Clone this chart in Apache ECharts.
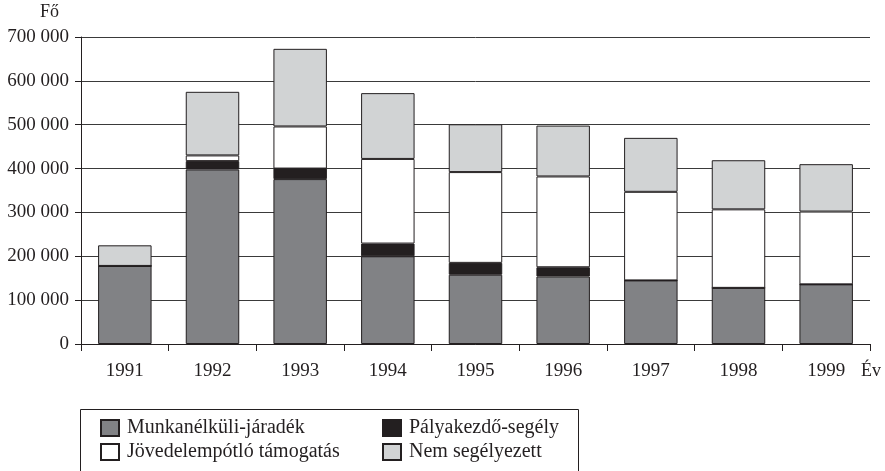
<!DOCTYPE html>
<html>
<head>
<meta charset="utf-8">
<script src="https://cdn.jsdelivr.net/npm/echarts@6/dist/echarts.min.js"></script>
<style>html,body{margin:0;padding:0;background:#fff;}#c{width:885px;height:471px;}</style>
</head>
<body>
<div id="c"></div>
<script>
const years = ['1991','1992','1993','1994','1995','1996','1997','1998','1999'];
const munkanelkuli = [178000, 398000, 376000, 200000, 158000, 154000, 145000, 128000, 136000];
const palyakezdo   = [0, 19000, 24000, 29000, 27000, 21000, 0, 0, 0];
const jovedelem    = [0, 13000, 96000, 193000, 207000, 207000, 202000, 179000, 166000];
const nemSegelyezett = [47000, 145000, 177000, 150000, 109000, 116000, 123000, 112000, 108000];
const yTicks = [0, 100000, 200000, 300000, 400000, 500000, 600000, 700000];

const FONT = '"Liberation Serif", "DejaVu Serif", serif';
const chart = echarts.init(document.getElementById('c'), null, {renderer: 'canvas'});
function mk(name, data, color) {
  return {
    name: name, type: 'bar', stack: 'all', data: data, barWidth: '61%',
    itemStyle: {color: color, borderColor: '#231f20', borderWidth: 1},
    emphasis: {disabled: true}
  };
}
const legendText = {fontFamily: FONT, fontSize: 20, lineHeight: 20, color: '#231f20', padding: [0, 0, 0, 3]};
chart.setOption({
  animation: false,
  grid: {left: 81, right: 15, top: 37, bottom: 127},
  xAxis: {
    type: 'category', data: years,
    axisLine: {lineStyle: {color: '#231f20', width: 1}},
    axisTick: {show: true, length: 7, lineStyle: {color: '#231f20'}},
    axisLabel: {fontFamily: FONT, fontSize: 19, color: '#231f20', margin: 18}
  },
  yAxis: {
    type: 'value', min: yTicks[0], max: yTicks[yTicks.length - 1], interval: 100000,
    axisLine: {show: true, lineStyle: {color: '#231f20', width: 1}},
    axisTick: {show: true, length: 6, lineStyle: {color: '#231f20'}},
    splitLine: {lineStyle: {color: '#3a3a3a', width: 1}},
    axisLabel: {
      fontFamily: FONT, fontSize: 19, color: '#231f20', margin: 12,
      formatter: function (v) { return String(v).replace(/\B(?=(\d{3})+(?!\d))/g, ' '); }
    }
  },
  legend: [
    {
      data: ['Munkanélküli-járadék', 'Jövedelempótló támogatás'],
      orient: 'vertical', left: 95, top: 413, itemWidth: 18, itemHeight: 16, itemGap: 4,
      icon: 'rect', selectedMode: false, textStyle: legendText
    },
    {
      data: ['Pályakezdő-segély', 'Nem segélyezett'],
      orient: 'vertical', left: 377, top: 413, itemWidth: 18, itemHeight: 16, itemGap: 4,
      icon: 'rect', selectedMode: false, textStyle: legendText
    }
  ],
  graphic: [
    {type: 'rect', shape: {x: 80.5, y: 409.5, width: 498, height: 70}, style: {fill: 'none', stroke: '#231f20', lineWidth: 1}, z: 0},
    {type: 'text', left: 40, top: 3, style: {text: 'Fő', font: '18px ' + FONT, fill: '#231f20'}},
    {type: 'text', left: 861, top: 362, style: {text: 'Év', font: '18px ' + FONT, fill: '#231f20'}}
  ],
  series: [
    mk('Munkanélküli-járadék', munkanelkuli, '#818285'),
    mk('Pályakezdő-segély', palyakezdo, '#231f20'),
    mk('Jövedelempótló támogatás', jovedelem, '#ffffff'),
    mk('Nem segélyezett', nemSegelyezett, '#d1d3d4')
  ]
});
</script>
</body>
</html>
